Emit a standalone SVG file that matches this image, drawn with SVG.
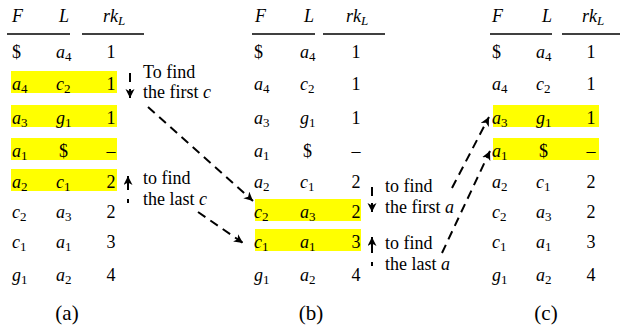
<svg xmlns="http://www.w3.org/2000/svg" width="620" height="326" viewBox="0 0 620 326">
<defs>
<marker id="ah" markerUnits="userSpaceOnUse" markerWidth="10" markerHeight="10" refX="9" refY="4.5" orient="auto">
<path d="M0,0 L9,4.5 L0,9 L2.5,4.5 z" fill="#000"/>
</marker>
</defs>

<g id="panel-a">
<rect fill="#ffff00" x="11" y="71" width="106" height="22"/>
<rect fill="#ffff00" x="11" y="105" width="106" height="22"/>
<rect fill="#ffff00" x="11" y="138" width="106" height="22"/>
<rect fill="#ffff00" x="11" y="169" width="106" height="22"/>
<text style="font-family:'Liberation Serif',serif !important;font-size:18px;font-style:italic" x="12" y="22">F</text>
<text style="font-family:'Liberation Serif',serif !important;font-size:18px;font-style:italic" x="59" y="22">L</text>
<text style="font-family:'Liberation Serif',serif !important;font-size:18px;font-style:italic" x="103" y="22">rk<tspan style="font-size:13px" dy="3">L</tspan></text>
<line stroke="#000" stroke-width="1.3" x1="7" y1="34" x2="70" y2="34"/>
<line stroke="#000" stroke-width="1.3" x1="82" y1="34" x2="144" y2="34"/>
<text style="font-family:'Liberation Serif',serif !important;font-size:18px" x="12" y="58">$</text><text style="font-family:'Liberation Serif',serif !important;font-size:18px" x="56" y="58"><tspan font-style="italic">a</tspan><tspan style="font-size:13px" dy="3">4</tspan></text><text style="font-family:'Liberation Serif',serif !important;font-size:18px" text-anchor="middle" x="111" y="58">1</text>
<text style="font-family:'Liberation Serif',serif !important;font-size:18px" x="12" y="90"><tspan font-style="italic">a</tspan><tspan style="font-size:13px" dy="3">4</tspan></text><text style="font-family:'Liberation Serif',serif !important;font-size:18px" x="56" y="90"><tspan font-style="italic">c</tspan><tspan style="font-size:13px" dy="3">2</tspan></text><text style="font-family:'Liberation Serif',serif !important;font-size:18px" text-anchor="middle" x="111" y="90">1</text>
<text style="font-family:'Liberation Serif',serif !important;font-size:18px" x="12" y="124"><tspan font-style="italic">a</tspan><tspan style="font-size:13px" dy="3">3</tspan></text><text style="font-family:'Liberation Serif',serif !important;font-size:18px" x="56" y="124"><tspan font-style="italic">g</tspan><tspan style="font-size:13px" dy="3">1</tspan></text><text style="font-family:'Liberation Serif',serif !important;font-size:18px" text-anchor="middle" x="111" y="124">1</text>
<text style="font-family:'Liberation Serif',serif !important;font-size:18px" x="12" y="157"><tspan font-style="italic">a</tspan><tspan style="font-size:13px" dy="3">1</tspan></text><text style="font-family:'Liberation Serif',serif !important;font-size:18px" x="59" y="157">$</text><text style="font-family:'Liberation Serif',serif !important;font-size:18px" text-anchor="middle" x="111" y="157">–</text>
<text style="font-family:'Liberation Serif',serif !important;font-size:18px" x="12" y="188"><tspan font-style="italic">a</tspan><tspan style="font-size:13px" dy="3">2</tspan></text><text style="font-family:'Liberation Serif',serif !important;font-size:18px" x="56" y="188"><tspan font-style="italic">c</tspan><tspan style="font-size:13px" dy="3">1</tspan></text><text style="font-family:'Liberation Serif',serif !important;font-size:18px" text-anchor="middle" x="111" y="188">2</text>
<text style="font-family:'Liberation Serif',serif !important;font-size:18px" x="12" y="218"><tspan font-style="italic">c</tspan><tspan style="font-size:13px" dy="3">2</tspan></text><text style="font-family:'Liberation Serif',serif !important;font-size:18px" x="56" y="218"><tspan font-style="italic">a</tspan><tspan style="font-size:13px" dy="3">3</tspan></text><text style="font-family:'Liberation Serif',serif !important;font-size:18px" text-anchor="middle" x="111" y="218">2</text>
<text style="font-family:'Liberation Serif',serif !important;font-size:18px" x="12" y="248"><tspan font-style="italic">c</tspan><tspan style="font-size:13px" dy="3">1</tspan></text><text style="font-family:'Liberation Serif',serif !important;font-size:18px" x="56" y="248"><tspan font-style="italic">a</tspan><tspan style="font-size:13px" dy="3">1</tspan></text><text style="font-family:'Liberation Serif',serif !important;font-size:18px" text-anchor="middle" x="111" y="248">3</text>
<text style="font-family:'Liberation Serif',serif !important;font-size:18px" x="12" y="281"><tspan font-style="italic">g</tspan><tspan style="font-size:13px" dy="3">1</tspan></text><text style="font-family:'Liberation Serif',serif !important;font-size:18px" x="56" y="281"><tspan font-style="italic">a</tspan><tspan style="font-size:13px" dy="3">2</tspan></text><text style="font-family:'Liberation Serif',serif !important;font-size:18px" text-anchor="middle" x="111" y="281">4</text>
<text style="font-family:'Liberation Serif',serif !important;font-size:21px" text-anchor="middle" x="67" y="320">(a)</text>
</g>

<g id="panel-b" transform="translate(243,0)">
<rect fill="#ffff00" x="12" y="199" width="106" height="22"/>
<rect fill="#ffff00" x="12" y="229" width="106" height="22"/>
<text style="font-family:'Liberation Serif',serif !important;font-size:18px;font-style:italic" x="12" y="22">F</text>
<text style="font-family:'Liberation Serif',serif !important;font-size:18px;font-style:italic" x="61" y="22">L</text>
<text style="font-family:'Liberation Serif',serif !important;font-size:18px;font-style:italic" x="103" y="22">rk<tspan style="font-size:13px" dy="3">L</tspan></text>
<line stroke="#000" stroke-width="1.3" x1="9" y1="34" x2="72" y2="34"/>
<line stroke="#000" stroke-width="1.3" x1="80" y1="34" x2="142" y2="34"/>
<text style="font-family:'Liberation Serif',serif !important;font-size:18px" x="11" y="58">$</text><text style="font-family:'Liberation Serif',serif !important;font-size:18px" x="57" y="58"><tspan font-style="italic">a</tspan><tspan style="font-size:13px" dy="3">4</tspan></text><text style="font-family:'Liberation Serif',serif !important;font-size:18px" text-anchor="middle" x="113" y="58">1</text>
<text style="font-family:'Liberation Serif',serif !important;font-size:18px" x="11" y="90"><tspan font-style="italic">a</tspan><tspan style="font-size:13px" dy="3">4</tspan></text><text style="font-family:'Liberation Serif',serif !important;font-size:18px" x="57" y="90"><tspan font-style="italic">c</tspan><tspan style="font-size:13px" dy="3">2</tspan></text><text style="font-family:'Liberation Serif',serif !important;font-size:18px" text-anchor="middle" x="113" y="90">1</text>
<text style="font-family:'Liberation Serif',serif !important;font-size:18px" x="11" y="124"><tspan font-style="italic">a</tspan><tspan style="font-size:13px" dy="3">3</tspan></text><text style="font-family:'Liberation Serif',serif !important;font-size:18px" x="57" y="124"><tspan font-style="italic">g</tspan><tspan style="font-size:13px" dy="3">1</tspan></text><text style="font-family:'Liberation Serif',serif !important;font-size:18px" text-anchor="middle" x="113" y="124">1</text>
<text style="font-family:'Liberation Serif',serif !important;font-size:18px" x="11" y="157"><tspan font-style="italic">a</tspan><tspan style="font-size:13px" dy="3">1</tspan></text><text style="font-family:'Liberation Serif',serif !important;font-size:18px" x="60" y="157">$</text><text style="font-family:'Liberation Serif',serif !important;font-size:18px" text-anchor="middle" x="113" y="157">–</text>
<text style="font-family:'Liberation Serif',serif !important;font-size:18px" x="11" y="188"><tspan font-style="italic">a</tspan><tspan style="font-size:13px" dy="3">2</tspan></text><text style="font-family:'Liberation Serif',serif !important;font-size:18px" x="57" y="188"><tspan font-style="italic">c</tspan><tspan style="font-size:13px" dy="3">1</tspan></text><text style="font-family:'Liberation Serif',serif !important;font-size:18px" text-anchor="middle" x="113" y="188">2</text>
<text style="font-family:'Liberation Serif',serif !important;font-size:18px" x="11" y="218"><tspan font-style="italic">c</tspan><tspan style="font-size:13px" dy="3">2</tspan></text><text style="font-family:'Liberation Serif',serif !important;font-size:18px" x="57" y="218"><tspan font-style="italic">a</tspan><tspan style="font-size:13px" dy="3">3</tspan></text><text style="font-family:'Liberation Serif',serif !important;font-size:18px" text-anchor="middle" x="113" y="218">2</text>
<text style="font-family:'Liberation Serif',serif !important;font-size:18px" x="11" y="248"><tspan font-style="italic">c</tspan><tspan style="font-size:13px" dy="3">1</tspan></text><text style="font-family:'Liberation Serif',serif !important;font-size:18px" x="57" y="248"><tspan font-style="italic">a</tspan><tspan style="font-size:13px" dy="3">1</tspan></text><text style="font-family:'Liberation Serif',serif !important;font-size:18px" text-anchor="middle" x="113" y="248">3</text>
<text style="font-family:'Liberation Serif',serif !important;font-size:18px" x="11" y="281"><tspan font-style="italic">g</tspan><tspan style="font-size:13px" dy="3">1</tspan></text><text style="font-family:'Liberation Serif',serif !important;font-size:18px" x="57" y="281"><tspan font-style="italic">a</tspan><tspan style="font-size:13px" dy="3">2</tspan></text><text style="font-family:'Liberation Serif',serif !important;font-size:18px" text-anchor="middle" x="113" y="281">4</text>
<text style="font-family:'Liberation Serif',serif !important;font-size:21px" text-anchor="middle" x="68" y="320">(b)</text>
</g>

<g id="panel-c" transform="translate(480,0)">
<rect fill="#ffff00" x="13" y="105" width="106" height="22"/>
<rect fill="#ffff00" x="13" y="138" width="106" height="22"/>
<text style="font-family:'Liberation Serif',serif !important;font-size:18px;font-style:italic" x="12" y="22">F</text>
<text style="font-family:'Liberation Serif',serif !important;font-size:18px;font-style:italic" x="62" y="22">L</text>
<text style="font-family:'Liberation Serif',serif !important;font-size:18px;font-style:italic" x="102" y="22">rk<tspan style="font-size:13px" dy="3">L</tspan></text>
<line stroke="#000" stroke-width="1.3" x1="10" y1="34" x2="72" y2="34"/>
<line stroke="#000" stroke-width="1.3" x1="82" y1="34" x2="144" y2="34"/>
<text style="font-family:'Liberation Serif',serif !important;font-size:18px" x="12" y="58">$</text><text style="font-family:'Liberation Serif',serif !important;font-size:18px" x="56" y="58"><tspan font-style="italic">a</tspan><tspan style="font-size:13px" dy="3">4</tspan></text><text style="font-family:'Liberation Serif',serif !important;font-size:18px" text-anchor="middle" x="111" y="58">1</text>
<text style="font-family:'Liberation Serif',serif !important;font-size:18px" x="12" y="90"><tspan font-style="italic">a</tspan><tspan style="font-size:13px" dy="3">4</tspan></text><text style="font-family:'Liberation Serif',serif !important;font-size:18px" x="56" y="90"><tspan font-style="italic">c</tspan><tspan style="font-size:13px" dy="3">2</tspan></text><text style="font-family:'Liberation Serif',serif !important;font-size:18px" text-anchor="middle" x="111" y="90">1</text>
<text style="font-family:'Liberation Serif',serif !important;font-size:18px" x="12" y="124"><tspan font-style="italic">a</tspan><tspan style="font-size:13px" dy="3">3</tspan></text><text style="font-family:'Liberation Serif',serif !important;font-size:18px" x="56" y="124"><tspan font-style="italic">g</tspan><tspan style="font-size:13px" dy="3">1</tspan></text><text style="font-family:'Liberation Serif',serif !important;font-size:18px" text-anchor="middle" x="111" y="124">1</text>
<text style="font-family:'Liberation Serif',serif !important;font-size:18px" x="12" y="157"><tspan font-style="italic">a</tspan><tspan style="font-size:13px" dy="3">1</tspan></text><text style="font-family:'Liberation Serif',serif !important;font-size:18px" x="59" y="157">$</text><text style="font-family:'Liberation Serif',serif !important;font-size:18px" text-anchor="middle" x="111" y="157">–</text>
<text style="font-family:'Liberation Serif',serif !important;font-size:18px" x="12" y="188"><tspan font-style="italic">a</tspan><tspan style="font-size:13px" dy="3">2</tspan></text><text style="font-family:'Liberation Serif',serif !important;font-size:18px" x="56" y="188"><tspan font-style="italic">c</tspan><tspan style="font-size:13px" dy="3">1</tspan></text><text style="font-family:'Liberation Serif',serif !important;font-size:18px" text-anchor="middle" x="111" y="188">2</text>
<text style="font-family:'Liberation Serif',serif !important;font-size:18px" x="12" y="218"><tspan font-style="italic">c</tspan><tspan style="font-size:13px" dy="3">2</tspan></text><text style="font-family:'Liberation Serif',serif !important;font-size:18px" x="56" y="218"><tspan font-style="italic">a</tspan><tspan style="font-size:13px" dy="3">3</tspan></text><text style="font-family:'Liberation Serif',serif !important;font-size:18px" text-anchor="middle" x="111" y="218">2</text>
<text style="font-family:'Liberation Serif',serif !important;font-size:18px" x="12" y="248"><tspan font-style="italic">c</tspan><tspan style="font-size:13px" dy="3">1</tspan></text><text style="font-family:'Liberation Serif',serif !important;font-size:18px" x="56" y="248"><tspan font-style="italic">a</tspan><tspan style="font-size:13px" dy="3">1</tspan></text><text style="font-family:'Liberation Serif',serif !important;font-size:18px" text-anchor="middle" x="111" y="248">3</text>
<text style="font-family:'Liberation Serif',serif !important;font-size:18px" x="12" y="281"><tspan font-style="italic">g</tspan><tspan style="font-size:13px" dy="3">1</tspan></text><text style="font-family:'Liberation Serif',serif !important;font-size:18px" x="56" y="281"><tspan font-style="italic">a</tspan><tspan style="font-size:13px" dy="3">2</tspan></text><text style="font-family:'Liberation Serif',serif !important;font-size:18px" text-anchor="middle" x="111" y="281">4</text>
<text style="font-family:'Liberation Serif',serif !important;font-size:21px" text-anchor="middle" x="66" y="320">(c)</text>
</g>

<g id="notes">
<text style="font-family:'Liberation Serif',serif !important;font-size:18px" x="143" y="78">To find</text>
<text style="font-family:'Liberation Serif',serif !important;font-size:18px" x="143" y="98">the first <tspan font-style="italic">c</tspan></text>
<text style="font-family:'Liberation Serif',serif !important;font-size:18px" x="143" y="184">to find</text>
<text style="font-family:'Liberation Serif',serif !important;font-size:18px" x="143" y="205">the last <tspan font-style="italic">c</tspan></text>
<text style="font-family:'Liberation Serif',serif !important;font-size:18px" x="385" y="192">to find</text>
<text style="font-family:'Liberation Serif',serif !important;font-size:18px" x="385" y="213">the first <tspan font-style="italic">a</tspan></text>
<text style="font-family:'Liberation Serif',serif !important;font-size:18px" x="385" y="249">to find</text>
<text style="font-family:'Liberation Serif',serif !important;font-size:18px" x="385" y="270">the last <tspan font-style="italic">a</tspan></text>
</g>

<g id="connectors" stroke="#000" stroke-width="2" fill="none">
<line x1="130" y1="73" x2="130" y2="98" stroke-dasharray="9 7" marker-end="url(#ah)"/>
<line x1="128" y1="203" x2="128" y2="176" stroke-dasharray="4 9 30" marker-end="url(#ah)"/>
<line x1="372" y1="187" x2="372" y2="212" stroke-dasharray="9 7" marker-end="url(#ah)"/>
<line x1="372" y1="266" x2="372" y2="237" stroke-dasharray="4 9 30" marker-end="url(#ah)"/>
<line x1="148" y1="107" x2="253" y2="201" stroke-dasharray="9 6" marker-end="url(#ah)"/>
<line x1="198" y1="212" x2="243" y2="243" stroke-dasharray="9 6" marker-end="url(#ah)"/>
<line x1="452" y1="188" x2="489" y2="117" stroke-dasharray="9 6" marker-end="url(#ah)"/>
<line x1="442" y1="253" x2="490" y2="151" stroke-dasharray="9 6" marker-end="url(#ah)"/>
</g>
</svg>
